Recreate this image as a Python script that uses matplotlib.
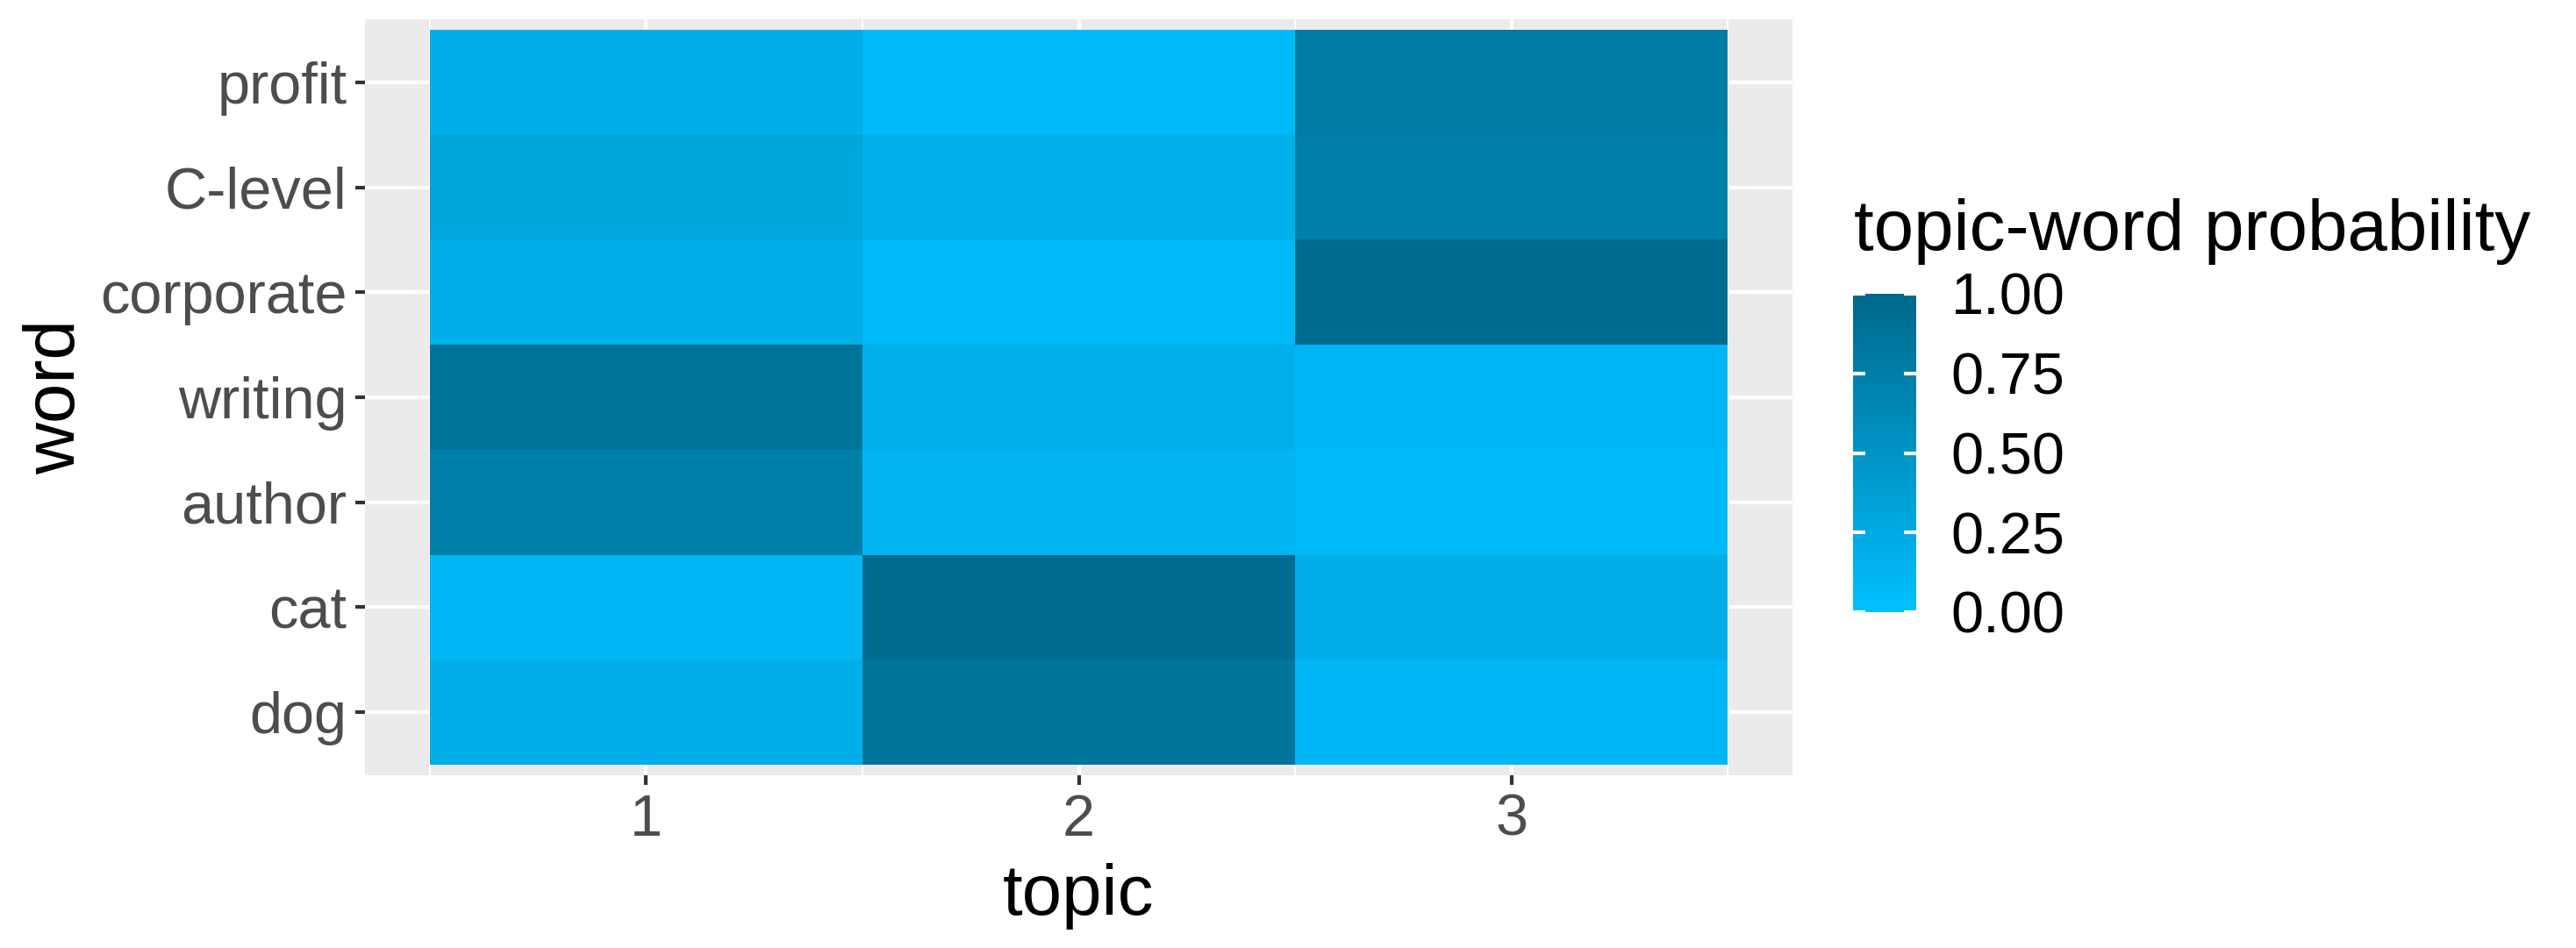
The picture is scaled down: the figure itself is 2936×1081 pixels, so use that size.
import numpy as np
import matplotlib.pyplot as plt
from matplotlib.colors import LinearSegmentedColormap

plt.rcParams['font.family'] = ['Liberation Sans', 'DejaVu Sans']

# dane: wiersze od dołu (dog) do góry (profit), kolumny = tematy 1..3
words = ['dog', 'cat', 'author', 'writing', 'corporate', 'C-level', 'profit']
topics = [1, 2, 3]
prob = np.array([
    [0.20, 0.86, 0.10],   # dog
    [0.10, 0.95, 0.21],   # cat
    [0.74, 0.11, 0.06],   # author
    [0.87, 0.17, 0.10],   # writing
    [0.20, 0.06, 0.95],   # corporate
    [0.30, 0.17, 0.74],   # C-level
    [0.20, 0.06, 0.77],   # profit
])
legend_ticks = [0.00, 0.25, 0.50, 0.75, 1.00]

cmap = LinearSegmentedColormap.from_list('sky', ['#00BFFF', '#00688B'])

W, H = 2937, 1081
fig = plt.figure(figsize=(W / 300, H / 300), dpi=300)
ax = fig.add_axes([416 / W, 1 - 884 / H, (2043 - 416) / W, (884 - 22) / H])
ax.set_facecolor('#EBEBEB')

x_edges = np.arange(len(topics) + 1) + 0.5
y_edges = np.arange(len(words) + 1) + 0.5
mesh = ax.pcolormesh(x_edges, y_edges, prob, cmap=cmap, vmin=0, vmax=1, zorder=2)

ax.set_xlim(0.35, 3.65)
ax.set_ylim(0.4, len(words) + 0.6)
ax.set_xticks(topics)
ax.set_xticklabels([str(t) for t in topics])
ax.set_xticks([0.5, 1.5, 2.5, 3.5], minor=True)
ax.set_yticks(np.arange(1, len(words) + 1))
ax.set_yticklabels(words)

ax.grid(True, which='major', color='white', lw=1.0, zorder=1)
ax.grid(True, which='minor', axis='x', color='white', lw=0.5, zorder=1)
ax.set_axisbelow(True)
for s in ax.spines.values():
    s.set_visible(False)
ax.tick_params(which='major', length=2.75, width=1.0, color='#333333',
               labelsize=16, labelcolor='#4D4D4D', pad=2.2)
ax.tick_params(which='minor', length=0)

ax.set_xlabel('topic', fontsize=19.6, va='baseline')
ax.xaxis.set_label_coords(0.5, -0.185)
ax.set_ylabel('word', fontsize=19.6, va='bottom')
ax.yaxis.set_label_coords(-0.193, 0.5)

# legenda kolorów
cax = fig.add_axes([2112 / W, 1 - 698 / H, 72 / W, 363 / H])
cb = fig.colorbar(mesh, cax=cax, ticks=legend_ticks)
cb.outline.set_visible(False)
cax.set_yticklabels(['%.2f' % t for t in legend_ticks])
cax.tick_params(axis='y', left=True, right=True, direction='in', length=3.4,
                width=1.0, color='white', labelsize=16, labelcolor='black', pad=9.5)
fig.text(2113 / W, 1 - 285 / H, 'topic-word probability', fontsize=19.6,
         va='baseline', ha='left')

fig.savefig('out.png', dpi=300)
